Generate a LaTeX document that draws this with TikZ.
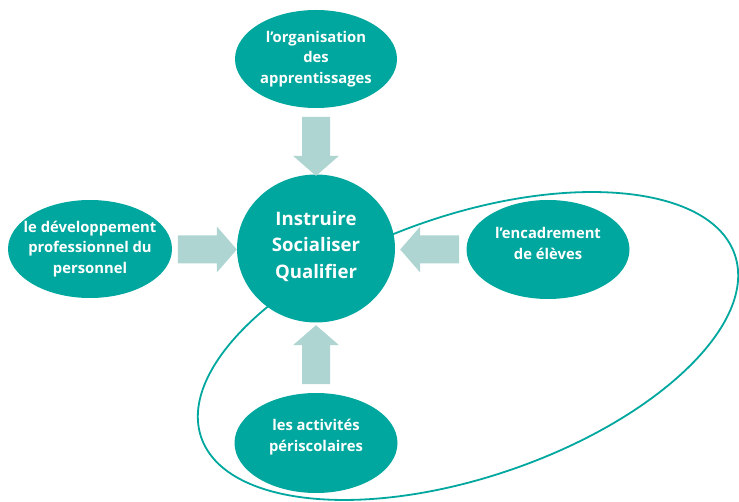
\documentclass[tikz,border=0pt]{standalone}
\usepackage{fontspec}
\setmainfont{Open Sans}
\usetikzlibrary{shapes.geometric,calc}
\definecolor{teal1}{RGB}{0,167,158}
\definecolor{arrowc}{RGB}{174,213,209}
\newcommand\blockarr[2]{%
  \fill[blockarrow, shift={#1}, rotate=#2] (0,0) -- (-20,23) -- (-20,14) -- (-59,14) -- (-59,-14) -- (-20,-14) -- (-20,-23) -- cycle;}
\begin{document}
\begin{tikzpicture}[x=1pt,y=-1pt,
  blob/.style={ellipse, fill=teal1, draw=none, inner sep=0pt},
  lbl/.style={text=white, font=\bfseries\fontsize{14.8}{20.5}\selectfont, align=center, inner sep=0pt},
  biglbl/.style={text=white, font=\bfseries\fontsize{18.6}{26.5}\selectfont, align=center, inner sep=0pt},
  ring/.style={draw=teal1, line width=1.8pt},
  blockarrow/.style={fill=arrowc, draw=none}]
\useasboundingbox (0,0) rectangle (739,502);
\draw[ring, rotate around={18.9:(468,346)}] (468,346) ellipse [x radius=282, y radius=131];
\node[blob, minimum width=162pt, minimum height=98pt] (org) at (316,59) {};
\node[blob, minimum width=164pt, minimum height=98pt] (dev) at (90,249) {};
\node[blob, minimum width=163pt, minimum height=99pt] (enc) at (548,249.5) {};
\node[blob, minimum width=163pt, minimum height=100pt] (act) at (316,443) {};
\node[blob, minimum width=158pt, minimum height=148pt] (isq) at (316,248.5) {};
\node[lbl] (torg) at (org.center) {l’organisation\\des\\apprentissages};
\node[lbl] (tdev) at (dev.center) {le développement\\professionnel du\\personnel};
\node[lbl] (tenc) at ($(enc.center)+(0,-6)$) {l’encadrement\\de élèves};
\node[lbl] (tact) at ($(act.center)+(0,-6)$) {les activités\\périscolaires};
\node[biglbl] (tisq) at ($(isq.center)+(0,-2)$) {Instruire\\Socialiser\\Qualifier};
\coordinate (tipN) at ($(isq.north)+(0,1.5)$);
\coordinate (tipW) at ($(isq.west)+(0,1)$);
\coordinate (tipE) at ($(isq.east)+(5,1)$);
\coordinate (tipS) at ($(isq.south)+(0,2.5)$);
\blockarr{(tipN)}{-90}
\blockarr{(tipW)}{0}
\blockarr{(tipE)}{180}
\blockarr{(tipS)}{90}
\end{tikzpicture}
\end{document}
